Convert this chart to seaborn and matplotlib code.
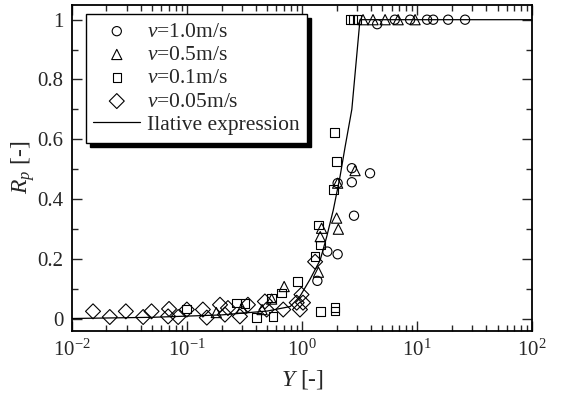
import numpy as np
import pandas as pd
import seaborn as sns
import matplotlib
matplotlib.use("Agg")
from matplotlib import pyplot as plt
from matplotlib.ticker import LogLocator, LogFormatterMathtext, MultipleLocator

# data
# v = 1.0 m/s (circles)
v10_Y = [1.36, 1.66, 2.04, 2.04, 2.71, 2.71, 2.83, 3.90,
         4.5, 6.4, 8.7, 12.2, 13.8, 18.6, 26.1]
v10_R = [0.126, 0.224, 0.215, 0.453, 0.503, 0.456, 0.344, 0.486,
         0.985, 1.0, 1.0, 1.0, 1.0, 1.0, 1.0]
# v = 0.5 m/s (triangles)
v05_Y = [0.18, 0.30, 0.45, 0.545, 0.70, 1.39, 1.44, 1.48, 2.00, 2.07,
         2.04, 2.89, 3.39, 4.14, 5.27, 6.84, 9.6]
v05_R = [0.02, 0.035, 0.03, 0.065, 0.107, 0.155, 0.274, 0.302, 0.336, 0.299,
         0.453, 0.495, 1.0, 1.0, 1.0, 1.0, 1.0]
# v = 0.1 m/s (squares)
v01_Y = [0.099, 0.27, 0.319, 0.403, 0.545, 0.562, 0.665, 0.91, 1.30, 1.39,
         1.44, 1.44, 1.87, 1.91, 1.94, 1.94, 2.00, 2.61, 2.77, 3.0]
v01_R = [0.032, 0.052, 0.05, 0.003, 0.068, 0.007, 0.086, 0.124, 0.207, 0.313,
         0.246, 0.024, 0.432, 0.623, 0.025, 0.037, 0.525, 1.0, 1.0, 1.0]
# v = 0.05 m/s (diamonds)
v005_Y = [0.0153, 0.0214, 0.0295, 0.0417, 0.0493, 0.070, 0.0687, 0.084, 0.10,
          0.1377, 0.149, 0.194, 0.214, 0.2275, 0.289, 0.339, 0.476, 0.493,
          0.687, 0.90, 0.96, 0.99, 1.02, 1.30]
v005_R = [0.024, 0.005, 0.024, 0.005, 0.024, 0.032, 0.007, 0.005, 0.03,
          0.03, 0.003, 0.046, 0.013, 0.035, 0.007, 0.046, 0.057, 0.03,
          0.03, 0.053, 0.03, 0.08, 0.053, 0.19]
# relative expression curve
curve_Y = [0.01, 0.05, 0.2, 0.5, 0.79, 0.96, 1.17, 1.44, 1.64, 1.87,
           2.14, 2.37, 2.71, 3.19, 100]
curve_R = [0.0, 0.004, 0.012, 0.025, 0.04, 0.074, 0.13, 0.196, 0.274, 0.363,
           0.475, 0.575, 0.70, 1.0, 1.0]

sns.set_style("ticks")
plt.rcParams["font.family"] = ["Liberation Serif", "DejaVu Serif"]
plt.rcParams["mathtext.fontset"] = "custom"
plt.rcParams["mathtext.rm"] = "Liberation Serif"
plt.rcParams["mathtext.it"] = "Liberation Serif:italic"

fig, ax = plt.subplots(figsize=(5.65, 3.96), dpi=100)
fig.subplots_adjust(left=0.127, right=0.942, top=0.988, bottom=0.164)

series = [
    (v10_Y, v10_R, "o", 44, r"$v$=1.0m/s"),
    (v05_Y, v05_R, "^", 54, r"$v$=0.5m/s"),
    (v01_Y, v01_R, "s", 38, r"$v$=0.1m/s"),
    (v005_Y, v005_R, "D", 58, r"$v$=0.05m/s"),
]
for xs, ys, mk, sz, lab in series:
    df = pd.DataFrame({"Y": xs, "R": ys})
    sns.scatterplot(data=df, x="Y", y="R", marker=mk, s=sz, facecolor="none",
                    edgecolor="black", linewidth=0.8, label=lab, ax=ax, zorder=3)

df_curve = pd.DataFrame({"Y": curve_Y, "R": curve_R})
sns.lineplot(data=df_curve, x="Y", y="R", color="black", linewidth=0.9,
             label="Ilative expression", ax=ax, sort=False)

ax.set_xscale("log")
ax.set_xlim(1e-2, 1e2)
ax.set_ylim(-0.042, 1.05)
ax.xaxis.set_major_locator(LogLocator(base=10, numticks=10))
ax.xaxis.set_minor_locator(LogLocator(base=10, subs=np.arange(2, 10), numticks=20))
ax.xaxis.set_major_formatter(LogFormatterMathtext())
ax.yaxis.set_minor_locator(MultipleLocator(0.1))
ax.set_yticks([0, 0.2, 0.4, 0.6, 0.8, 1.0])
ax.set_yticklabels(["0", "0.2", "0.4", "0.6", "0.8", "1"])

ax.tick_params(which="both", direction="in", top=True, right=True,
               labelsize=15, width=1.0, pad=6)
ax.tick_params(which="major", length=7)
ax.tick_params(which="minor", length=4)
for sp in ax.spines.values():
    sp.set_linewidth(1.3)
    sp.set_color("black")

ax.set_xlabel(r"$Y$ [-]", fontsize=17, labelpad=5)
ax.set_ylabel(r"$R_p$ [-]", fontsize=17)
ax.yaxis.set_label_coords(-0.075, 0.5)

leg = ax.legend(loc="upper left", bbox_to_anchor=(0.03, 0.971), borderaxespad=0,
                fontsize=15.5, frameon=True, fancybox=False, edgecolor="black",
                shadow={"color": "black", "alpha": 1.0, "ox": 3, "oy": -3},
                handlelength=2.2, handletextpad=0.3, labelspacing=0.15,
                borderpad=0.35, framealpha=1)
leg.get_frame().set_linewidth(1.0)

plt.savefig("out.png", dpi=100)
